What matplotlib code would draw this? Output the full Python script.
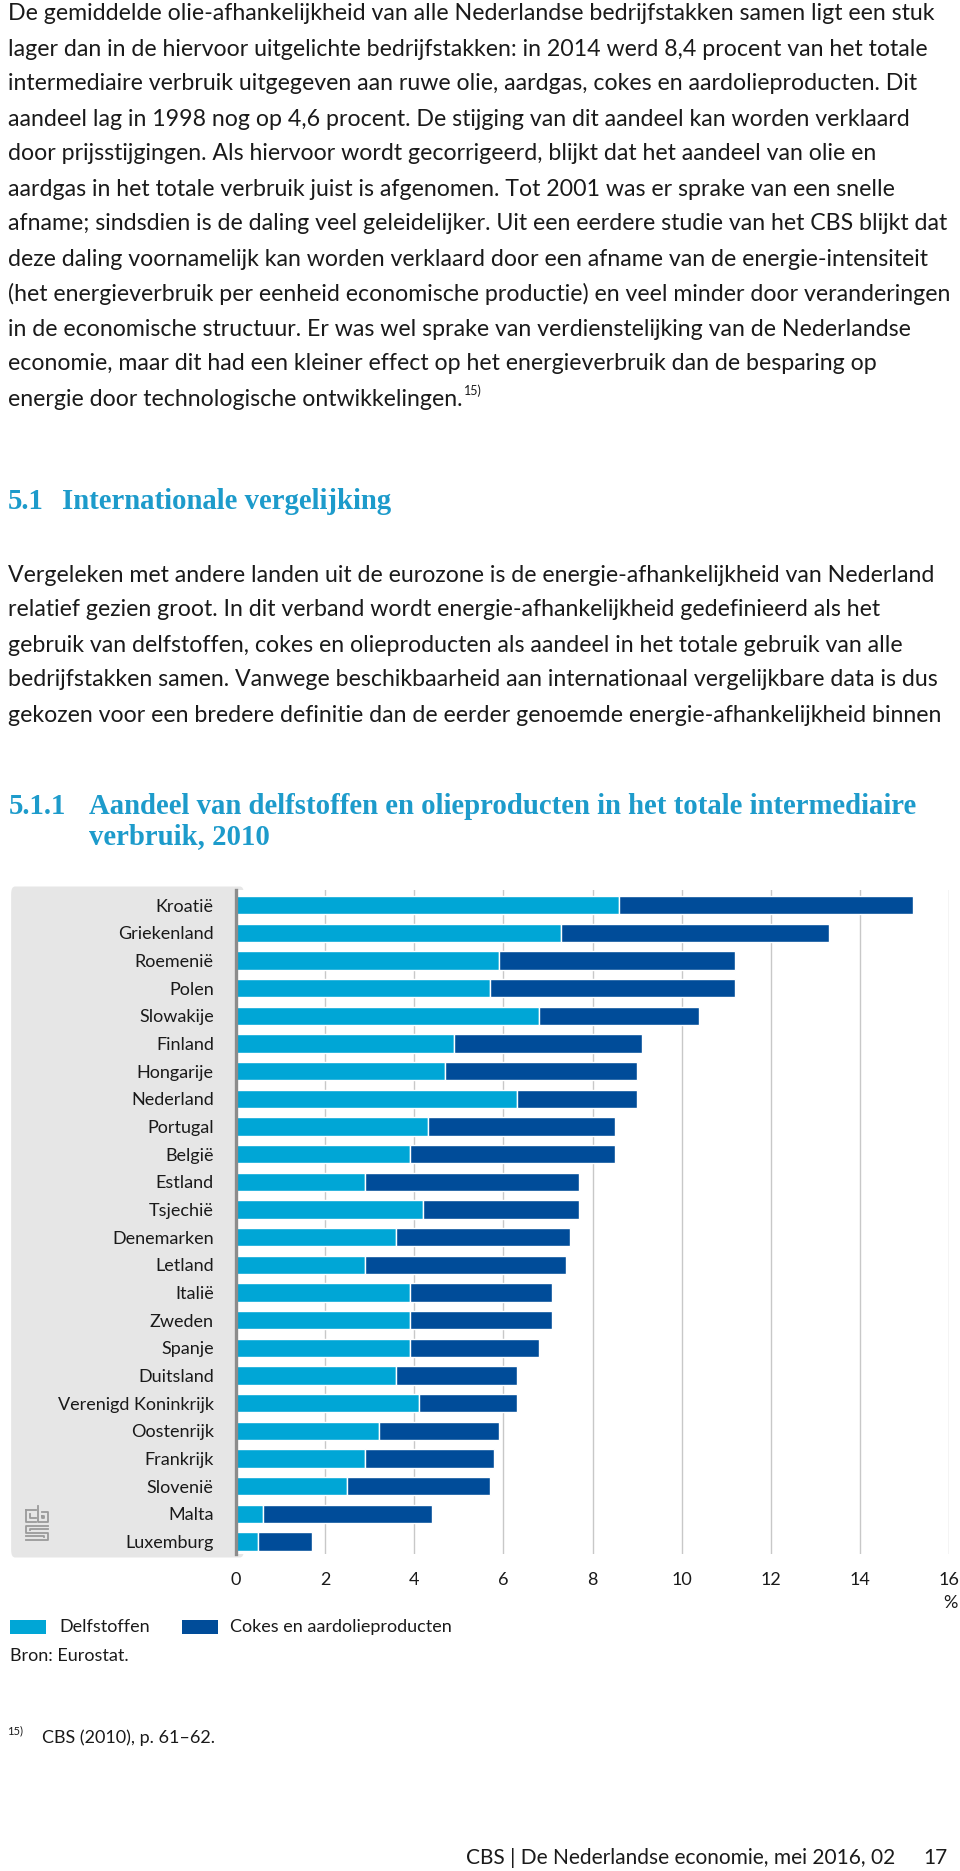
import matplotlib
matplotlib.use("Agg")
import matplotlib.pyplot as plt
from matplotlib.patches import FancyBboxPatch, Rectangle
from matplotlib.lines import Line2D
from matplotlib.font_manager import FontProperties

W, H = 960, 1871

countries = ["Kroatië", "Griekenland", "Roemenië", "Polen", "Slowakije", "Finland",
             "Hongarije", "Nederland", "Portugal", "België", "Estland", "Tsjechië",
             "Denemarken", "Letland", "Italië", "Zweden", "Spanje", "Duitsland",
             "Verenigd Koninkrijk", "Oostenrijk", "Frankrijk", "Slovenië", "Malta",
             "Luxemburg"]
delfstoffen = [8.6, 7.3, 5.9, 5.7, 6.8, 4.9, 4.7, 6.3, 4.3, 3.9, 2.9, 4.2,
               3.6, 2.9, 3.9, 3.9, 3.9, 3.6, 4.1, 3.2, 2.9, 2.5, 0.6, 0.5]
cokes = [6.6, 6.0, 5.3, 5.5, 3.6, 4.2, 4.3, 2.7, 4.2, 4.6, 4.8, 3.5,
         3.9, 4.5, 3.2, 3.2, 2.9, 2.7, 2.2, 2.7, 2.9, 3.2, 3.8, 1.2]
xticks = [0, 2, 4, 6, 8, 10, 12, 14, 16]

para1 = [
    "De gemiddelde olie-afhankelijkheid van alle Nederlandse bedrijfstakken samen ligt een stuk",
    "lager dan in de hiervoor uitgelichte bedrijfstakken: in 2014 werd 8,4 procent van het totale",
    "intermediaire verbruik uitgegeven aan ruwe olie, aardgas, cokes en aardolieproducten. Dit",
    "aandeel lag in 1998 nog op 4,6 procent. De stijging van dit aandeel kan worden verklaard",
    "door prijsstijgingen. Als hiervoor wordt gecorrigeerd, blijkt dat het aandeel van olie en",
    "aardgas in het totale verbruik juist is afgenomen. Tot 2001 was er sprake van een snelle",
    "afname; sindsdien is de daling veel geleidelijker. Uit een eerdere studie van het CBS blijkt dat",
    "deze daling voornamelijk kan worden verklaard door een afname van de energie-intensiteit",
    "(het energieverbruik per eenheid economische productie) en veel minder door veranderingen",
    "in de economische structuur. Er was wel sprake van verdienstelijking van de Nederlandse",
    "economie, maar dit had een kleiner effect op het energieverbruik dan de besparing op",
    "energie door technologische ontwikkelingen.",
]
para2 = [
    "Vergeleken met andere landen uit de eurozone is de energie-afhankelijkheid van Nederland",
    "relatief gezien groot. In dit verband wordt energie-afhankelijkheid gedefinieerd als het",
    "gebruik van delfstoffen, cokes en olieproducten als aandeel in het totale gebruik van alle",
    "bedrijfstakken samen. Vanwege beschikbaarheid aan internationaal vergelijkbare data is dus",
    "gekozen voor een bredere definitie dan de eerder genoemde energie-afhankelijkheid binnen",
]
title51 = "Internationale vergelijking"
title511 = ["Aandeel van delfstoffen en olieproducten in het totale intermediaire",
            "verbruik, 2010"]

LIGHT = "#00a6d6"
DARK = "#004c99"
TEAL = "#1d9bcb"
INK = "#1a1a1a"
BODY = "Lato"
HEAD = "Liberation Serif"


def fx(x):
    return x / W


def fy(y):
    return 1 - y / H


fig = plt.figure(figsize=(W / 100, H / 100), dpi=100)
renderer = fig.canvas.get_renderer()


def fit_size(lines, family, target, weight="normal", base=14.0):
    # font size at which the widest line is `target` pixels wide
    prop = FontProperties(family=family, weight=weight, size=base)
    widest = max(renderer.get_text_width_height_descent(s, prop, ismath=False)[0]
                 for s in lines)
    return base * target / widest


TS = fit_size(para1 + para2, BODY, 944)
HS = fit_size([title511[0]], HEAD, 829, weight="bold")

# body text
last = None
for i, line in enumerate(para1):
    last = fig.text(fx(8), fy(14 + 35 * i), line, fontsize=TS, family=BODY,
                    color=INK, va="center")
end_x = last.get_window_extent(renderer).x1
fig.text(end_x / W + 0.002, fy(391), "15)", fontsize=9, family=BODY, color=INK,
         va="center")

fig.text(fx(8), fy(502), "5.1", fontsize=HS, family=HEAD, weight="bold",
         color=TEAL, va="center")
fig.text(fx(62), fy(502), title51, fontsize=HS, family=HEAD,
         weight="bold", color=TEAL, va="center")

for i, line in enumerate(para2):
    fig.text(fx(8), fy(575 + 35 * i), line, fontsize=TS, family=BODY,
             color=INK, va="center")

fig.text(fx(9), fy(806), "5.1.1", fontsize=HS, family=HEAD, weight="bold",
         color=TEAL, va="center")
for i, line in enumerate(title511):
    fig.text(fx(89), fy(806 + 31 * i), line, fontsize=HS, family=HEAD,
             weight="bold", color=TEAL, va="center")

# grey label panel
panel = FancyBboxPatch((fx(15), fy(1550)), fx(240) - fx(15), fy(894) - fy(1550),
                       boxstyle="round,pad=0.004", transform=fig.transFigure,
                       facecolor="#e6e6e6", edgecolor="none", zorder=-1)
fig.patches.append(panel)

# chart
ax = fig.add_axes([fx(236), fy(1554), fx(949) - fx(236), (1554 - 890) / H])
ax.set_facecolor("white")
y = list(range(len(countries)))
ax.barh(y, delfstoffen, height=0.66, color=LIGHT, edgecolor="white", linewidth=1.0,
        zorder=3)
ax.barh(y, cokes, left=delfstoffen, height=0.66, color=DARK, edgecolor="white",
        linewidth=1.0, zorder=3)
ax.set_xlim(0, 16)
ax.set_ylim(23.45, -0.553)
ax.set_xticks(xticks)
ax.set_xticklabels([str(t) for t in xticks], fontsize=13, family=BODY, color=INK)
ax.set_yticks(y)
ax.set_yticklabels(countries, fontsize=13, family=BODY, color=INK)
ax.tick_params(axis="x", length=0, pad=13)
ax.tick_params(axis="y", length=0, pad=16)
for t in xticks[1:]:
    ax.axvline(t, color="#c8c8c8", linewidth=1.0, zorder=1)
for s in ["top", "right", "bottom"]:
    ax.spines[s].set_visible(False)
ax.spines["left"].set_color("#8c8c8c")
ax.spines["left"].set_linewidth(2.4)
ax.spines["left"].set_zorder(4)

fig.text(fx(950), fy(1603), "%", fontsize=13, family=BODY, color=INK,
         ha="center", va="center")

# cbs logo (simple line sketch)
logo = [
    [(26, 1510), (26, 1522), (36, 1522)],
    [(26, 1510), (36, 1510)],
    [(30, 1514), (30, 1518), (36, 1518)],
    [(38, 1506), (38, 1522), (48, 1522), (48, 1512), (42, 1512)],
    [(42, 1516), (44, 1516), (44, 1518), (42, 1518), (42, 1516)],
    [(48, 1526), (26, 1526), (26, 1533), (48, 1533), (48, 1540), (26, 1540)],
    [(48, 1529), (30, 1529), (30, 1530)],
    [(26, 1536), (44, 1536), (44, 1537)],
]
for seg in logo:
    xs = [fx(p[0]) for p in seg]
    ys = [fy(p[1]) for p in seg]
    fig.add_artist(Line2D(xs, ys, color="#9a9a9a", linewidth=1.3,
                          transform=fig.transFigure))

# legend
fig.patches.append(Rectangle((fx(10), fy(1634)), fx(36), 14 / H, transform=fig.transFigure,
                             facecolor=LIGHT, edgecolor="none"))
fig.text(fx(59), fy(1627), "Delfstoffen", fontsize=13, family=BODY, color=INK,
         va="center")
fig.patches.append(Rectangle((fx(182), fy(1634)), fx(36), 14 / H, transform=fig.transFigure,
                             facecolor=DARK, edgecolor="none"))
fig.text(fx(230), fy(1627), "Cokes en aardolieproducten", fontsize=13, family=BODY,
         color=INK, va="center")
fig.text(fx(10), fy(1656), "Bron: Eurostat.", fontsize=13, family=BODY, color=INK,
         va="center")

# footnote and footer
fig.text(fx(7), fy(1731), "15)", fontsize=8, family=BODY, color=INK, va="center")
fig.text(fx(42), fy(1738), "CBS (2010), p. 61\u201362.", fontsize=13, family=BODY,
         color=INK, va="center")
fig.text(fx(895), fy(1858), "CBS | De Nederlandse economie, mei 2016, 02", fontsize=15,
         family=BODY, color=INK, ha="right", va="center")
fig.text(fx(948), fy(1858), "17", fontsize=15, family=BODY, color=INK, ha="right",
         va="center")

fig.savefig("out.png", dpi=100)
